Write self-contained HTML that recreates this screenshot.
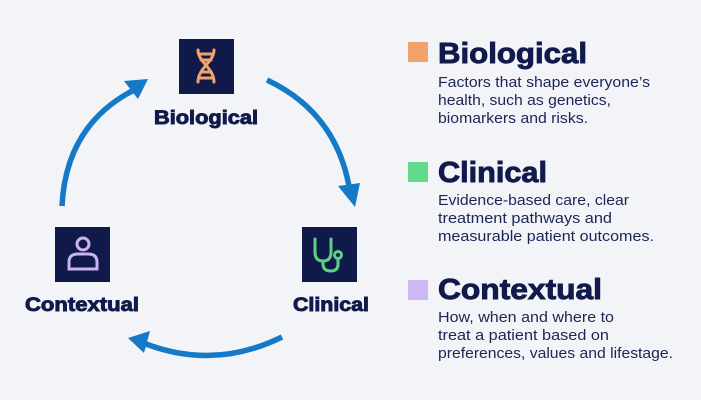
<!DOCTYPE html>
<html><head><style>
html,body{margin:0;padding:0;background:#f2f4f8;}
svg{display:block;}
.t{font-family:"Liberation Sans",sans-serif;font-weight:bold;fill:#111a4b;stroke:#111a4b;stroke-width:0.9;}
.d{font-family:"Liberation Sans",sans-serif;fill:#1d2554;font-size:14.5px;}
</style></head><body>
<svg width="701" height="400" viewBox="0 0 701 400" xmlns="http://www.w3.org/2000/svg">
<rect width="701" height="400" fill="#f2f4f8"/>
<g fill="none" stroke="#1479c6" stroke-width="5.5" stroke-linecap="butt">
<path d="M62,206 Q66,125 134,90"/>
<path d="M267,80 Q335,112 349,186"/>
<path d="M282,337 Q215,370 146,344"/>
</g>
<g fill="#1479c6">
<polygon points="148,79 124,81 138,99"/>
<polygon points="355,207 338,186 360,183"/>
<polygon points="128,338 150,331 144,353"/>
</g>
<rect x="179" y="39" width="55" height="55" fill="#101a4a"/>
<rect x="55" y="227" width="55" height="55" fill="#101a4a"/>
<rect x="302" y="227" width="55" height="55" fill="#101a4a"/>
<g stroke="#f0a46c" stroke-width="3" fill="none" stroke-linecap="round">
<path d="M198,50 C198,62 214,68 214,82"/>
<path d="M214,50 C214,62 198,68 198,82"/>
<line x1="199" y1="54" x2="213" y2="54"/>
<line x1="201" y1="60" x2="211" y2="60"/>
<line x1="201" y1="72" x2="211" y2="72"/>
<line x1="199" y1="78" x2="213" y2="78"/>
</g>
<g stroke="#c9b3f0" stroke-width="3" fill="none">
<circle cx="83" cy="244" r="6"/>
<path d="M69,269 L69,262 Q69,254 78,254 L88,254 Q97,254 97,262 L97,269 Z"/>
</g>
<g stroke="#5fcf87" stroke-width="3" fill="none" stroke-linecap="round">
<path d="M315,239 L315,252 Q315,261 323,261 Q331,261 331,252 L331,239"/>
<path d="M323,261 L323,264 Q323,271 331,271 Q338,271 338,264 L338,260"/>
<circle cx="338" cy="255" r="3.5"/>
</g>
<text class="t" x="154" y="124" font-size="19" textLength="104" lengthAdjust="spacingAndGlyphs">Biological</text>
<text class="t" x="25" y="311" font-size="19" textLength="114" lengthAdjust="spacingAndGlyphs">Contextual</text>
<text class="t" x="293" y="311" font-size="19" textLength="76" lengthAdjust="spacingAndGlyphs">Clinical</text>
<rect x="408" y="42" width="20" height="20" fill="#f0a46c"/>
<text class="t" x="438" y="63" font-size="29" stroke-width="1.4" textLength="149" lengthAdjust="spacingAndGlyphs">Biological</text>
<text class="d" x="438" y="87" textLength="212" lengthAdjust="spacingAndGlyphs">Factors that shape everyone’s</text>
<text class="d" x="438" y="105" textLength="173" lengthAdjust="spacingAndGlyphs">health, such as genetics,</text>
<text class="d" x="438" y="123" textLength="150" lengthAdjust="spacingAndGlyphs">biomarkers and risks.</text>
<rect x="408" y="162" width="20" height="20" fill="#62d88a"/>
<text class="t" x="438" y="182" font-size="29" stroke-width="1.4" textLength="109" lengthAdjust="spacingAndGlyphs">Clinical</text>
<text class="d" x="438" y="205" textLength="191" lengthAdjust="spacingAndGlyphs">Evidence-based care, clear</text>
<text class="d" x="438" y="223" textLength="174" lengthAdjust="spacingAndGlyphs">treatment pathways and</text>
<text class="d" x="438" y="241" textLength="216" lengthAdjust="spacingAndGlyphs">measurable patient outcomes.</text>
<rect x="408" y="280" width="20" height="20" fill="#cbb8f4"/>
<text class="t" x="438" y="299" font-size="29" stroke-width="1.4" textLength="164" lengthAdjust="spacingAndGlyphs">Contextual</text>
<text class="d" x="438" y="322" textLength="176" lengthAdjust="spacingAndGlyphs">How, when and where to</text>
<text class="d" x="438" y="340" textLength="171" lengthAdjust="spacingAndGlyphs">treat a patient based on</text>
<text class="d" x="438" y="358" textLength="235" lengthAdjust="spacingAndGlyphs">preferences, values and lifestage.</text>
</svg>
</body></html>
